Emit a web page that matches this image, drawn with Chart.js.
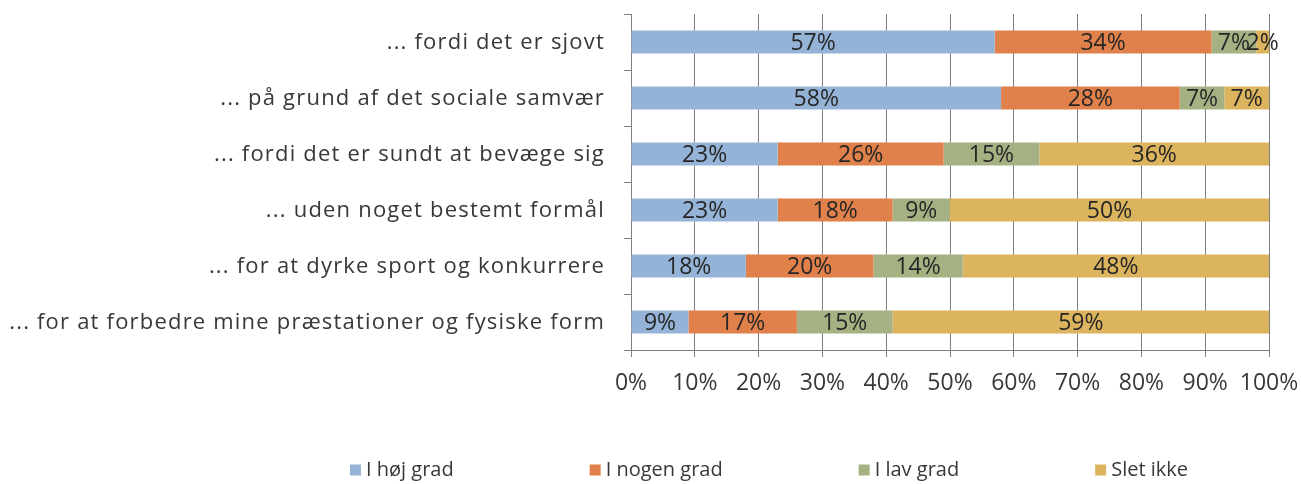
<!DOCTYPE html>
<html>
<head>
<meta charset="utf-8">
<script src="https://cdn.jsdelivr.net/npm/chart.js@4"></script>
<style>
  html, body { margin: 0; padding: 0; background: #fff; }
  #wrap { width: 1301px; height: 484px; }
</style>
</head>
<body>
<div id="wrap"><canvas id="chart" width="1301" height="484"></canvas></div>
<script>
// kategorier (top til bund)
const categories = [
    '... fordi det er sjovt',
    '... på grund af det sociale samvær',
    '... fordi det er sundt at bevæge sig',
    '... uden noget bestemt formål',
    '... for at dyrke sport og konkurrere',
    '... for at forbedre mine præstationer og fysiske form'
];
const seriesNames = ['I høj grad', 'I nogen grad', 'I lav grad', 'Slet ikke'];
const hojGrad   = [57, 58, 23, 23, 18, 9];
const nogenGrad = [34, 28, 26, 18, 20, 17];
const lavGrad   = [7, 7, 15, 9, 14, 15];
const sletIkke  = [2, 7, 36, 50, 48, 59];
const xTicks = [0, 10, 20, 30, 40, 50, 60, 70, 80, 90, 100];

const colors = ['#95b3d7', '#e0804a', '#a5b183', '#ddb45e'];
const textColor = '#383838';
const gridColor = '#7f7f7f';
const fontFamily = "'Open Sans', 'Noto Sans', sans-serif";

Chart.defaults.font.family = fontFamily;
Chart.defaults.color = textColor;

// kategorinavne tegnes selv (bredere spatiering end resten)
const categoryLabels = {
    id: 'categoryLabels',
    afterDraw(chart) {
        const ctx = chart.ctx;
        const y = chart.scales.y;
        ctx.save();
        ctx.font = '22px ' + fontFamily;
        ctx.letterSpacing = '1.2px';
        ctx.fillStyle = textColor;
        ctx.textAlign = 'right';
        ctx.textBaseline = 'middle';
        chart.data.labels.forEach((lbl, i) => {
            ctx.fillText(lbl, y.right - 26, y.getPixelForTick(i) + 1);
        });
        ctx.restore();
    }
};

// procent-etiketter midt i hvert segment
const segmentLabels = {
    id: 'segmentLabels',
    afterDatasetsDraw(chart) {
        const ctx = chart.ctx;
        ctx.save();
        ctx.font = '23px ' + fontFamily;
        ctx.fillStyle = '#262626';
        ctx.textAlign = 'center';
        ctx.textBaseline = 'middle';
        chart.data.datasets.forEach((ds, i) => {
            chart.getDatasetMeta(i).data.forEach((bar, j) => {
                const p = bar.getCenterPoint();
                ctx.fillText(ds.data[j] + '%', p.x, p.y + 1);
            });
        });
        ctx.restore();
    }
};

// forklaring under diagrammet
const bottomLegend = {
    id: 'bottomLegend',
    afterDraw(chart) {
        const ctx = chart.ctx;
        const box = 11, gap = 5, between = 136, centerX = 769, y = 470;
        ctx.save();
        ctx.font = '20px ' + fontFamily;
        ctx.textBaseline = 'middle';
        ctx.textAlign = 'left';
        const items = chart.data.datasets.map(ds => ({
            text: ds.label,
            color: ds.backgroundColor,
            w: box + gap + ctx.measureText(ds.label).width
        }));
        const total = items.reduce((s, it) => s + it.w, 0) + between * (items.length - 1);
        let x = centerX - total / 2;
        items.forEach(it => {
            ctx.fillStyle = it.color;
            ctx.fillRect(x, y - box / 2, box, box);
            ctx.fillStyle = textColor;
            ctx.fillText(it.text, x + box + gap, y);
            x += it.w + between;
        });
        ctx.restore();
    }
};

const seriesData = [hojGrad, nogenGrad, lavGrad, sletIkke];

new Chart(document.getElementById('chart'), {
    type: 'bar',
    data: {
        labels: categories,
        datasets: seriesNames.map((name, i) => ({
            label: name,
            data: seriesData[i],
            backgroundColor: colors[i],
            borderWidth: 0,
            categoryPercentage: 1,
            barPercentage: 0.41
        }))
    },
    options: {
        indexAxis: 'y',
        responsive: false,
        animation: false,
        layout: { padding: { top: 14, right: 32, left: 0, bottom: 80 } },
        plugins: {
            tooltip: { enabled: false },
            legend: { display: false }
        },
        scales: {
            x: {
                stacked: true,
                min: 0,
                max: 100,
                afterBuildTicks: (scale) => { scale.ticks = xTicks.map(v => ({ value: v })); },
                afterFit: (scale) => {
                    scale.height = 54;
                    scale.paddingLeft = 0;
                    scale.paddingRight = 0;
                },
                ticks: {
                    callback: (v) => v + '%',
                    font: { size: 23 },
                    color: textColor,
                    padding: 13,
                    maxRotation: 0
                },
                grid: { color: gridColor, tickLength: 7, lineWidth: 1 },
                border: { color: gridColor }
            },
            y: {
                stacked: true,
                afterFit: (scale) => { scale.width = 631; },
                ticks: { display: false },
                grid: { offset: true, drawOnChartArea: false, color: gridColor, tickLength: 7 },
                border: { color: gridColor }
            }
        }
    },
    plugins: [segmentLabels, categoryLabels, bottomLegend]
});
</script>
</body>
</html>
